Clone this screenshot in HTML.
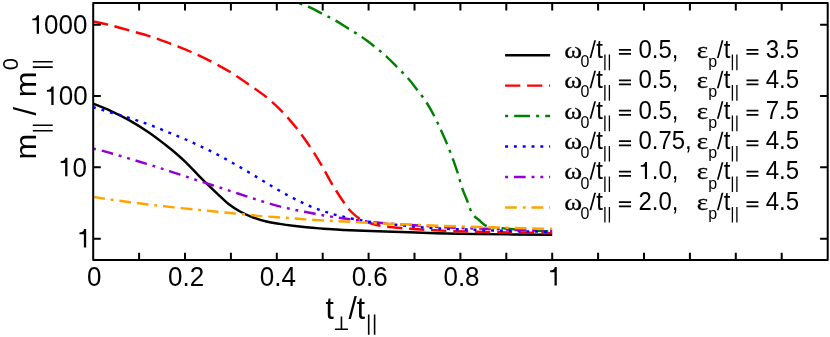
<!DOCTYPE html>
<html><head><meta charset="utf-8"><title>chart</title>
<style>
html,body{margin:0;padding:0;background:#fff;}
body{width:830px;height:337px;overflow:hidden;font-family:"Liberation Sans",sans-serif;}
svg{display:block;will-change:transform;}
</style></head><body>
<svg width="830" height="337" viewBox="0 0 830 337">
<rect width="830" height="337" fill="#fff"/>
<g fill="none" stroke-width="2.45" stroke-linecap="butt" stroke-linejoin="round">
<path d="M93.20 103.70C96.00 104.85 104.10 107.90 110.00 110.60C115.90 113.30 122.30 116.37 128.60 119.90C134.90 123.43 141.73 127.70 147.80 131.80C153.87 135.90 160.33 140.93 165.00 144.50C169.67 148.07 172.23 150.15 175.80 153.20C179.37 156.25 182.38 158.87 186.40 162.80C190.42 166.73 196.03 172.87 199.90 176.80C203.77 180.73 206.37 183.27 209.60 186.40C212.83 189.53 216.08 192.62 219.30 195.60C222.52 198.58 225.45 201.65 228.90 204.30C232.35 206.95 235.93 209.30 240.00 211.50C244.07 213.70 248.88 215.83 253.30 217.50C257.72 219.17 262.08 220.43 266.50 221.50C270.92 222.57 275.38 223.18 279.80 223.90C284.22 224.62 288.58 225.23 293.00 225.80C297.42 226.37 301.88 226.87 306.30 227.30C310.72 227.73 315.08 228.07 319.50 228.40C323.92 228.73 327.72 228.98 332.80 229.30C337.88 229.62 339.97 229.90 350.00 230.30C360.03 230.70 378.72 231.22 393.00 231.70C407.28 232.18 421.20 232.80 435.70 233.20C450.20 233.60 460.58 233.85 480.00 234.10C499.42 234.35 540.17 234.60 552.20 234.70" stroke="#000000"/>
<path d="M93.20 21.50C95.72 22.03 102.25 23.20 108.30 24.70C114.35 26.20 122.43 28.52 129.50 30.50C136.57 32.48 143.63 34.30 150.70 36.60C157.77 38.90 165.15 41.73 171.90 44.30C178.65 46.87 184.55 49.08 191.20 52.00C197.85 54.92 205.20 58.40 211.80 61.80C218.40 65.20 224.57 68.58 230.80 72.40C237.03 76.22 243.12 80.47 249.20 84.70C255.28 88.93 261.63 93.13 267.30 97.80C272.97 102.47 278.15 107.42 283.20 112.70C288.25 117.98 293.05 123.72 297.60 129.50C302.15 135.28 306.47 141.38 310.50 147.40C314.53 153.42 318.08 159.28 321.80 165.60C325.52 171.92 328.97 178.93 332.80 185.30C336.63 191.67 341.60 199.27 344.80 203.80C348.00 208.33 349.52 210.00 352.00 212.50C354.48 215.00 357.17 217.18 359.70 218.80C362.23 220.42 363.75 221.03 367.20 222.20C370.65 223.37 374.55 224.80 380.40 225.80C386.25 226.80 395.00 227.55 402.30 228.20C409.60 228.85 416.80 229.25 424.20 229.70C431.60 230.15 439.33 230.58 446.70 230.90C454.07 231.22 457.85 231.35 468.40 231.60C478.95 231.85 496.03 232.15 510.00 232.40C523.97 232.65 545.17 232.98 552.20 233.10" stroke="#ff0000" stroke-dasharray="15.20 6.80"/>
<path d="M298.50 2.90C300.13 3.53 304.42 4.93 308.30 6.70C312.18 8.47 317.23 11.18 321.80 13.50C326.37 15.82 331.20 18.03 335.70 20.60C340.20 23.17 344.43 26.17 348.80 28.90C353.17 31.63 357.67 34.10 361.90 37.00C366.13 39.90 370.13 43.08 374.20 46.30C378.27 49.52 382.50 52.85 386.30 56.30C390.10 59.75 393.38 63.33 397.00 67.00C400.62 70.67 404.63 74.48 408.00 78.30C411.37 82.12 414.15 85.92 417.20 89.90C420.25 93.88 423.48 97.88 426.30 102.20C429.12 106.52 431.67 111.18 434.10 115.80C436.53 120.42 438.78 125.30 440.90 129.90C443.02 134.50 444.88 138.77 446.80 143.40C448.72 148.03 450.60 152.82 452.40 157.70C454.20 162.58 456.00 167.72 457.60 172.70C459.20 177.68 460.33 182.75 462.00 187.60C463.67 192.45 466.23 198.20 467.60 201.80C468.97 205.40 469.10 206.85 470.20 209.20C471.30 211.55 472.65 214.02 474.20 215.90C475.75 217.78 477.77 219.00 479.50 220.50C481.23 222.00 483.10 223.90 484.60 224.90C486.10 225.90 487.03 226.10 488.50 226.50C489.97 226.90 489.27 226.85 493.40 227.30C497.53 227.75 506.37 228.65 513.30 229.20C520.23 229.75 528.52 230.25 535.00 230.60C541.48 230.95 549.33 231.18 552.20 231.30" stroke="#008000" stroke-dasharray="3.00 6.05 15.80 6.05" stroke-dashoffset="-1.10"/>
<path d="M93.20 107.20C94.85 107.70 98.65 108.88 103.10 110.20C107.55 111.52 114.30 113.42 119.90 115.10C125.50 116.78 131.15 118.45 136.70 120.30C142.25 122.15 147.72 124.12 153.20 126.20C158.68 128.28 164.17 130.58 169.60 132.80C175.03 135.02 180.43 137.17 185.80 139.50C191.17 141.83 196.50 144.27 201.80 146.80C207.10 149.33 212.38 151.97 217.60 154.70C222.82 157.43 227.98 160.32 233.10 163.20C238.22 166.08 243.22 169.00 248.30 172.00C253.38 175.00 258.53 178.15 263.60 181.20C268.67 184.25 273.62 187.40 278.70 190.30C283.78 193.20 288.88 195.95 294.10 198.60C299.32 201.25 304.60 203.93 310.00 206.20C315.40 208.47 320.92 210.43 326.50 212.20C332.08 213.97 337.77 215.45 343.50 216.80C349.23 218.15 355.15 219.27 360.90 220.30C366.65 221.33 372.17 222.25 378.00 223.00C383.83 223.75 389.97 224.20 395.90 224.80C401.83 225.40 407.72 226.07 413.60 226.60C419.48 227.13 425.35 227.62 431.20 228.00C437.05 228.38 441.42 228.60 448.70 228.90C455.98 229.20 466.12 229.50 474.90 229.80C483.68 230.10 492.57 230.43 501.40 230.70C510.23 230.97 519.43 231.20 527.90 231.40C536.37 231.60 548.15 231.82 552.20 231.90" stroke="#0000ff" stroke-dasharray="2.94 5.87"/>
<path d="M93.20 148.60C94.60 148.93 98.35 149.75 101.60 150.60C104.85 151.45 108.25 152.42 112.70 153.70C117.15 154.98 122.65 156.60 128.30 158.30C133.95 160.00 141.03 162.18 146.60 163.90C152.17 165.62 156.10 166.80 161.70 168.60C167.30 170.40 174.63 172.87 180.20 174.70C185.77 176.53 189.58 177.80 195.10 179.60C200.62 181.40 207.62 183.67 213.30 185.50C218.98 187.33 223.63 188.78 229.20 190.60C234.77 192.42 241.13 194.58 246.70 196.40C252.27 198.22 256.95 199.80 262.60 201.50C268.25 203.20 274.92 205.15 280.60 206.60C286.28 208.05 290.98 209.00 296.70 210.20C302.42 211.40 309.15 212.73 314.90 213.80C320.65 214.87 325.35 215.70 331.20 216.60C337.05 217.50 342.20 218.20 350.00 219.20C357.80 220.20 367.17 221.58 378.00 222.60C388.83 223.62 403.00 224.47 415.00 225.30C427.00 226.13 438.33 227.02 450.00 227.60C461.67 228.18 473.00 228.37 485.00 228.80C497.00 229.23 510.80 229.83 522.00 230.20C533.20 230.57 547.17 230.87 552.20 231.00" stroke="#9400d3" stroke-dasharray="2.94 5.87 11.75 5.87 2.94 5.87"/>
<path d="M93.20 196.90C96.27 197.37 105.38 198.82 111.60 199.70C117.82 200.58 124.47 201.40 130.50 202.20C136.53 203.00 140.57 203.63 147.80 204.50C155.03 205.37 165.38 206.50 173.90 207.40C182.42 208.30 191.68 209.17 198.90 209.90C206.12 210.63 209.80 211.07 217.20 211.80C224.60 212.53 235.97 213.58 243.30 214.30C250.63 215.02 253.90 215.50 261.20 216.10C268.50 216.70 279.70 217.35 287.10 217.90C294.50 218.45 298.32 218.92 305.60 219.40C312.88 219.88 323.40 220.40 330.80 220.80C338.20 221.20 340.47 221.32 350.00 221.80C359.53 222.28 377.63 223.23 388.00 223.70C398.37 224.17 403.97 224.27 412.20 224.60C420.43 224.93 426.10 225.30 437.40 225.70C448.70 226.10 467.07 226.62 480.00 227.00C492.93 227.38 502.97 227.68 515.00 228.00C527.03 228.32 546.00 228.75 552.20 228.90" stroke="#ffa500" stroke-dasharray="11.75 5.87 2.94 5.87 11.75 5.87"/>
</g>
<g stroke="#000" stroke-width="2.00" fill="none" stroke-linecap="butt">
<rect x="93.20" y="2.90" width="734.50" height="257.00" stroke-linejoin="round"/>
<path d="M139.10 259.90 V252.80 M139.10 2.90 V10.60 M185.00 259.90 V252.80 M185.00 2.90 V10.60 M230.90 259.90 V252.80 M230.90 2.90 V10.60 M276.80 259.90 V252.80 M276.80 2.90 V10.60 M322.70 259.90 V252.80 M322.70 2.90 V10.60 M368.60 259.90 V252.80 M368.60 2.90 V10.60 M414.50 259.90 V252.80 M414.50 2.90 V10.60 M460.40 259.90 V252.80 M460.40 2.90 V10.60 M506.30 259.90 V252.80 M506.30 2.90 V10.60 M552.20 259.90 V252.80 M552.20 2.90 V10.60 M598.10 259.90 V252.80 M598.10 2.90 V10.60 M644.00 259.90 V252.80 M644.00 2.90 V10.60 M689.90 259.90 V252.80 M689.90 2.90 V10.60 M735.80 259.90 V252.80 M735.80 2.90 V10.60 M781.70 259.90 V252.80 M781.70 2.90 V10.60 M93.20 238.65 H100.80 M827.70 238.65 H820.10 M93.20 167.35 H100.80 M827.70 167.35 H820.10 M93.20 96.05 H100.80 M827.70 96.05 H820.10 M93.20 24.75 H100.80 M827.70 24.75 H820.10"/>
</g>
<g font-family="'Liberation Sans', sans-serif" font-size="26" fill="#000">
<text transform="translate(94.30 286.10) scale(1.000 1.045)" text-anchor="middle">0</text>
<text transform="translate(186.10 286.10) scale(1.000 1.045)" text-anchor="middle">0.2</text>
<text transform="translate(277.90 286.10) scale(1.000 1.045)" text-anchor="middle">0.4</text>
<text transform="translate(369.70 286.10) scale(1.000 1.045)" text-anchor="middle">0.6</text>
<text transform="translate(461.50 286.10) scale(1.000 1.045)" text-anchor="middle">0.8</text>
<path d="M554.51 285.50V272.21H550.09V270.55C552.67 270.29 554.10 269.71 554.82 267.00H556.80V285.50Z" fill="#000" stroke="none"/>
<path d="M83.87 247.55V234.26H79.45V232.60C82.03 232.34 83.46 231.76 84.18 229.05H86.16V247.55Z" fill="#000" stroke="none"/>
<path d="M65.14 176.25V162.96H60.72V161.30C63.30 161.04 64.73 160.46 65.45 157.75H67.43V176.25Z" fill="#000" stroke="none"/>
<text transform="translate(72.55 176.75) scale(1.000 1.045)">0</text>
<path d="M51.31 104.95V91.66H46.89V90.00C49.47 89.74 50.90 89.16 51.62 86.45H53.60V104.95Z" fill="#000" stroke="none"/>
<text transform="translate(58.72 105.45) scale(1.000 1.045)">00</text>
<path d="M36.71 33.65V20.36H32.29V18.70C34.87 18.44 36.30 17.86 37.02 15.15H39.00V33.65Z" fill="#000" stroke="none"/>
<text transform="translate(44.12 34.15) scale(1.000 1.045)">000</text>
</g>
<g font-family="'Liberation Sans', sans-serif" font-size="30" fill="#000">
<text transform="translate(325.60 318.80) scale(1.000 1.045)">t</text>
<text transform="translate(348.40 318.80) scale(1.000 1.045)">/t</text>
</g>
<g stroke="#000" stroke-width="1.6" fill="none">
<path d="M334.9 329.2H348 M341.45 329.2V316.6"/>
<path d="M368.7 314.6V334.8 M374.6 314.6V334.8"/>
</g>
<g transform="translate(36.1,158) rotate(-90)">
<g font-family="'Liberation Sans', sans-serif" font-size="30" fill="#000">
<text transform="translate(-1.60 0.00) scale(1.030 1.000)">m</text>
<text transform="translate(42.60 0.00) scale(1.030 1.050)">/</text>
<text transform="translate(60.80 0.00) scale(1.030 1.000)">m</text>
<text transform="translate(87.80 -18.30) scale(1.000 1.020)" font-size="22">0</text>
</g>
<g stroke="#000" stroke-width="1.6" fill="none">
<path d="M27.3 -3.3V16.6 M32.8 -3.3V16.6"/>
<path d="M90.9 -3.3V16.6 M96.2 -3.3V16.6"/>
</g>
</g>
<path d="M505.1 55.15H550.1" stroke="#000000" stroke-width="2.45" fill="none"/>
<g font-family="'Liberation Sans', sans-serif" font-size="24" fill="#000">
<text transform="translate(564.20 57.60) scale(1.180 1.045)" font-size="23" font-family="'Liberation Serif', serif" stroke="#000" stroke-width="0.25">ω</text>
<text transform="translate(580.60 67.00) scale(1.000 1.045)" font-size="16">0</text>
<text transform="translate(596.30 57.60) scale(1.000 1.045)">t</text>
<path d="M589.50 57.90H591.25L596.00 40.30H594.25Z" fill="#000" stroke="none"/>
<text transform="translate(638.40 57.60) scale(1.000 1.045)">0.5,</text>
<text transform="translate(696.70 57.60) scale(1.180 1.045)" font-size="23" font-family="'Liberation Serif', serif" stroke="#000" stroke-width="0.25">ε</text>
<text transform="translate(708.20 67.00) scale(1.000 1.045)" font-size="16">p</text>
<text transform="translate(723.70 57.60) scale(1.000 1.045)">t</text>
<path d="M716.90 57.90H718.65L723.40 40.30H721.65Z" fill="#000" stroke="none"/>
<text transform="translate(765.70 57.60) scale(1.000 1.045)">3.5</text>
</g>
<path d="M618.9 49.80H631 M618.9 53.90H631 M746.5 49.80H758.4 M746.5 53.90H758.4" stroke="#000" stroke-width="1.75" fill="none"/>
<path d="M604.9 54.60V70.20 M609.4 54.60V70.20 M732.4 54.60V70.20 M736.9 54.60V70.20" stroke="#000" stroke-width="1.3" fill="none"/>
<path d="M505.1 85.62H550.1" stroke="#ff0000" stroke-width="2.45" fill="none" stroke-dasharray="15.20 6.80"/>
<g font-family="'Liberation Sans', sans-serif" font-size="24" fill="#000">
<text transform="translate(564.20 88.07) scale(1.180 1.045)" font-size="23" font-family="'Liberation Serif', serif" stroke="#000" stroke-width="0.25">ω</text>
<text transform="translate(580.60 97.47) scale(1.000 1.045)" font-size="16">0</text>
<text transform="translate(596.30 88.07) scale(1.000 1.045)">t</text>
<path d="M589.50 88.37H591.25L596.00 70.77H594.25Z" fill="#000" stroke="none"/>
<text transform="translate(638.40 88.07) scale(1.000 1.045)">0.5,</text>
<text transform="translate(696.70 88.07) scale(1.180 1.045)" font-size="23" font-family="'Liberation Serif', serif" stroke="#000" stroke-width="0.25">ε</text>
<text transform="translate(708.20 97.47) scale(1.000 1.045)" font-size="16">p</text>
<text transform="translate(723.70 88.07) scale(1.000 1.045)">t</text>
<path d="M716.90 88.37H718.65L723.40 70.77H721.65Z" fill="#000" stroke="none"/>
<text transform="translate(765.70 88.07) scale(1.000 1.045)">4.5</text>
</g>
<path d="M618.9 80.27H631 M618.9 84.37H631 M746.5 80.27H758.4 M746.5 84.37H758.4" stroke="#000" stroke-width="1.75" fill="none"/>
<path d="M604.9 85.07V100.67 M609.4 85.07V100.67 M732.4 85.07V100.67 M736.9 85.07V100.67" stroke="#000" stroke-width="1.3" fill="none"/>
<path d="M505.1 116.09H550.1" stroke="#008000" stroke-width="2.45" fill="none" stroke-dasharray="3.00 6.10 15.80 6.10"/>
<g font-family="'Liberation Sans', sans-serif" font-size="24" fill="#000">
<text transform="translate(564.20 118.54) scale(1.180 1.045)" font-size="23" font-family="'Liberation Serif', serif" stroke="#000" stroke-width="0.25">ω</text>
<text transform="translate(580.60 127.94) scale(1.000 1.045)" font-size="16">0</text>
<text transform="translate(596.30 118.54) scale(1.000 1.045)">t</text>
<path d="M589.50 118.84H591.25L596.00 101.24H594.25Z" fill="#000" stroke="none"/>
<text transform="translate(638.40 118.54) scale(1.000 1.045)">0.5,</text>
<text transform="translate(696.70 118.54) scale(1.180 1.045)" font-size="23" font-family="'Liberation Serif', serif" stroke="#000" stroke-width="0.25">ε</text>
<text transform="translate(708.20 127.94) scale(1.000 1.045)" font-size="16">p</text>
<text transform="translate(723.70 118.54) scale(1.000 1.045)">t</text>
<path d="M716.90 118.84H718.65L723.40 101.24H721.65Z" fill="#000" stroke="none"/>
<text transform="translate(765.70 118.54) scale(1.000 1.045)">7.5</text>
</g>
<path d="M618.9 110.74H631 M618.9 114.84H631 M746.5 110.74H758.4 M746.5 114.84H758.4" stroke="#000" stroke-width="1.75" fill="none"/>
<path d="M604.9 115.54V131.14 M609.4 115.54V131.14 M732.4 115.54V131.14 M736.9 115.54V131.14" stroke="#000" stroke-width="1.3" fill="none"/>
<path d="M505.1 146.56H550.1" stroke="#0000ff" stroke-width="2.45" fill="none" stroke-dasharray="2.94 5.87"/>
<g font-family="'Liberation Sans', sans-serif" font-size="24" fill="#000">
<text transform="translate(564.20 149.01) scale(1.180 1.045)" font-size="23" font-family="'Liberation Serif', serif" stroke="#000" stroke-width="0.25">ω</text>
<text transform="translate(580.60 158.41) scale(1.000 1.045)" font-size="16">0</text>
<text transform="translate(596.30 149.01) scale(1.000 1.045)">t</text>
<path d="M589.50 149.31H591.25L596.00 131.71H594.25Z" fill="#000" stroke="none"/>
<text transform="translate(638.40 149.01) scale(1.000 1.045)">0.75,</text>
<text transform="translate(696.70 149.01) scale(1.180 1.045)" font-size="23" font-family="'Liberation Serif', serif" stroke="#000" stroke-width="0.25">ε</text>
<text transform="translate(708.20 158.41) scale(1.000 1.045)" font-size="16">p</text>
<text transform="translate(723.70 149.01) scale(1.000 1.045)">t</text>
<path d="M716.90 149.31H718.65L723.40 131.71H721.65Z" fill="#000" stroke="none"/>
<text transform="translate(765.70 149.01) scale(1.000 1.045)">4.5</text>
</g>
<path d="M618.9 141.21H631 M618.9 145.31H631 M746.5 141.21H758.4 M746.5 145.31H758.4" stroke="#000" stroke-width="1.75" fill="none"/>
<path d="M604.9 146.01V161.61 M609.4 146.01V161.61 M732.4 146.01V161.61 M736.9 146.01V161.61" stroke="#000" stroke-width="1.3" fill="none"/>
<path d="M505.1 177.03H550.1" stroke="#9400d3" stroke-width="2.45" fill="none" stroke-dasharray="2.94 5.87 11.75 5.87 2.94 5.87"/>
<g font-family="'Liberation Sans', sans-serif" font-size="24" fill="#000">
<text transform="translate(564.20 179.48) scale(1.180 1.045)" font-size="23" font-family="'Liberation Serif', serif" stroke="#000" stroke-width="0.25">ω</text>
<text transform="translate(580.60 188.88) scale(1.000 1.045)" font-size="16">0</text>
<text transform="translate(596.30 179.48) scale(1.000 1.045)">t</text>
<path d="M589.50 179.78H591.25L596.00 162.18H594.25Z" fill="#000" stroke="none"/>
<path d="M644.90 179.08V166.81H640.82V165.28C643.20 165.04 644.52 164.51 645.19 162.01H647.02V179.08Z" fill="#000" stroke="none"/>
<text transform="translate(651.74 179.48) scale(1.000 1.045)">.0,</text>
<text transform="translate(696.70 179.48) scale(1.180 1.045)" font-size="23" font-family="'Liberation Serif', serif" stroke="#000" stroke-width="0.25">ε</text>
<text transform="translate(708.20 188.88) scale(1.000 1.045)" font-size="16">p</text>
<text transform="translate(723.70 179.48) scale(1.000 1.045)">t</text>
<path d="M716.90 179.78H718.65L723.40 162.18H721.65Z" fill="#000" stroke="none"/>
<text transform="translate(765.70 179.48) scale(1.000 1.045)">4.5</text>
</g>
<path d="M618.9 171.68H631 M618.9 175.78H631 M746.5 171.68H758.4 M746.5 175.78H758.4" stroke="#000" stroke-width="1.75" fill="none"/>
<path d="M604.9 176.48V192.08 M609.4 176.48V192.08 M732.4 176.48V192.08 M736.9 176.48V192.08" stroke="#000" stroke-width="1.3" fill="none"/>
<path d="M505.1 207.50H550.1" stroke="#ffa500" stroke-width="2.45" fill="none" stroke-dasharray="11.75 5.87 2.94 5.87 11.75 5.87"/>
<g font-family="'Liberation Sans', sans-serif" font-size="24" fill="#000">
<text transform="translate(564.20 209.95) scale(1.180 1.045)" font-size="23" font-family="'Liberation Serif', serif" stroke="#000" stroke-width="0.25">ω</text>
<text transform="translate(580.60 219.35) scale(1.000 1.045)" font-size="16">0</text>
<text transform="translate(596.30 209.95) scale(1.000 1.045)">t</text>
<path d="M589.50 210.25H591.25L596.00 192.65H594.25Z" fill="#000" stroke="none"/>
<text transform="translate(638.40 209.95) scale(1.000 1.045)">2.0,</text>
<text transform="translate(696.70 209.95) scale(1.180 1.045)" font-size="23" font-family="'Liberation Serif', serif" stroke="#000" stroke-width="0.25">ε</text>
<text transform="translate(708.20 219.35) scale(1.000 1.045)" font-size="16">p</text>
<text transform="translate(723.70 209.95) scale(1.000 1.045)">t</text>
<path d="M716.90 210.25H718.65L723.40 192.65H721.65Z" fill="#000" stroke="none"/>
<text transform="translate(765.70 209.95) scale(1.000 1.045)">4.5</text>
</g>
<path d="M618.9 202.15H631 M618.9 206.25H631 M746.5 202.15H758.4 M746.5 206.25H758.4" stroke="#000" stroke-width="1.75" fill="none"/>
<path d="M604.9 206.95V222.55 M609.4 206.95V222.55 M732.4 206.95V222.55 M736.9 206.95V222.55" stroke="#000" stroke-width="1.3" fill="none"/>
</svg>
</body></html>
